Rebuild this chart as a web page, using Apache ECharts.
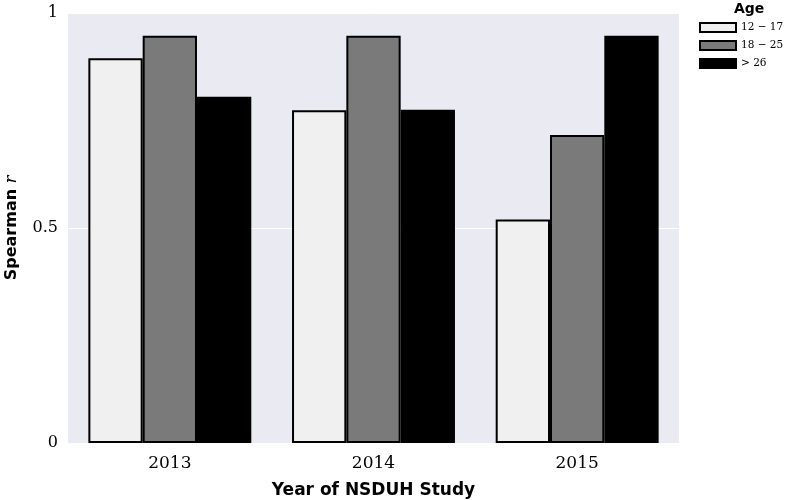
<!DOCTYPE html>
<html>
<head>
    <meta charset="utf-8">
    <script src="https://cdn.jsdelivr.net/npm/echarts@6/dist/echarts.min.js"></script>
</head>
<body style="margin:0">
    <div id="main" style="width: 788px;height:500px;"></div>
    <script type="text/javascript">
        // data
        var years = ['2013', '2014', '2015'];
        var ageGroups = ['12 \u2212 17', '18 \u2212 25', '> 26'];
        var age12to17 = [0.895, 0.774, 0.520];
        var age18to25 = [0.947, 0.947, 0.716];
        var ageOver26 = [0.805, 0.775, 0.947];
        var fills = ['#f0f0f0', '#7a7a7a', '#000000'];

        var myChart = echarts.init(document.getElementById('main'));
        var values = [age12to17, age18to25, ageOver26];

        var series = ageGroups.map(function (name, i) {
            return {
                name: name,
                type: 'bar',
                data: values[i],
                barGap: '0%',
                barCategoryGap: '20%',
                itemStyle: { color: fills[i], borderColor: '#000', borderWidth: 2 }
            };
        });

        myChart.setOption({
            animation: false,
            title: {
                text: 'Age',
                left: 734, top: 2,
                padding: 0,
                textStyle: { fontFamily: 'DejaVu Sans', fontWeight: 'bold', fontSize: 14, color: '#000' }
            },
            legend: {
                data: ageGroups,
                orient: 'vertical',
                left: 699, top: 22,
                padding: 0,
                itemWidth: 36, itemHeight: 9,
                itemGap: 7,
                icon: 'rect',
                textStyle: { fontFamily: 'DejaVu Serif', fontSize: 10.5, color: '#000' }
            },
            grid: {
                left: 68, right: 109, top: 13, bottom: 57,
                outerBoundsMode: 'none',
                show: true, backgroundColor: '#eaeaf2', borderWidth: 0
            },
            xAxis: {
                type: 'category',
                data: years,
                axisLine: { show: false },
                axisTick: { show: false },
                axisLabel: { fontFamily: 'DejaVu Serif', fontSize: 17, color: '#000', margin: 12 },
                name: 'Year of NSDUH Study',
                nameLocation: 'middle',
                nameGap: 39,
                nameTextStyle: { fontFamily: 'DejaVu Sans', fontWeight: 'bold', fontSize: 17, color: '#000' }
            },
            yAxis: {
                type: 'value',
                min: 0, max: 1, interval: 0.5,
                axisLine: { show: false },
                axisTick: { show: false },
                splitLine: { lineStyle: { color: '#ffffff', width: 1 } },
                axisLabel: {
                    fontFamily: 'DejaVu Serif', fontSize: 16, color: '#000', margin: 10,
                    formatter: function (v) { return String(v); }
                },
                name: '{a|Spearman }{b|r}',
                nameLocation: 'middle',
                nameRotate: 90,
                nameGap: 48,
                nameTextStyle: {
                    rich: {
                        a: { fontFamily: 'DejaVu Sans', fontWeight: 'bold', fontSize: 16, color: '#000' },
                        b: { fontFamily: 'DejaVu Serif', fontStyle: 'italic', fontSize: 16, color: '#000' }
                    }
                }
            },
            series: series
        });
    </script>
</body>
</html>
